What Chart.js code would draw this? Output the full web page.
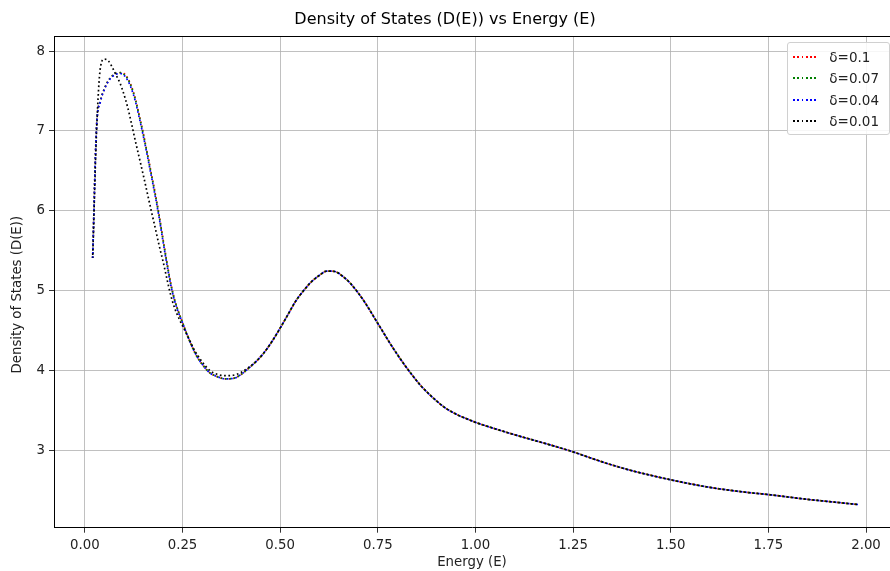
<!DOCTYPE html>
<html>
<head>
<meta charset="utf-8">
<script src="https://cdn.jsdelivr.net/npm/chart.js@4.4.0/dist/chart.umd.min.js"></script>
<style>
  html, body { margin: 0; padding: 0; background: #fff; overflow: hidden; }
  #wrap { position: relative; width: 890px; height: 571px; }
  #legend {
    position: absolute; right: 0px; top: 42px;
    background: rgba(255,255,255,0.85);
    border: 1px solid #d0d0d0; border-radius: 3px;
    padding: 3px 10px 2px 5px;
    font-family: 'DejaVu Sans', sans-serif; font-size: 13.5px; color: #222;
  }
  .row { display: flex; align-items: center; height: 21.5px; }
  .sample { width: 26px; height: 1.7px; margin-right: 10px; }
</style>
</head>
<body>
<div id="wrap">
  <canvas id="c" width="890" height="571"></canvas>
  <div id="legend"></div>
</div>
<script>
const energy = [
  0.02,0.03,0.04,0.05,0.06,0.07,0.08,0.09,0.10,0.11,0.12,0.13,0.14,0.15,0.16,0.17,0.18,0.19,0.20,
  0.21,0.22,0.23,0.24,0.25,0.26,0.27,0.28,0.29,0.30,
  0.32,0.34,0.36,0.38,0.40,0.42,0.44,0.46,0.48,0.50,0.52,0.54,0.56,0.58,0.60,0.62,0.64,0.66,0.68,0.70,
  0.72,0.74,0.76,0.78,0.80,0.82,0.84,0.86,0.88,0.90,0.92,0.94,0.96,0.98,1.00,
  1.05,1.10,1.15,1.20,1.25,1.30,1.35,1.40,1.45,1.50,1.55,1.60,1.65,1.70,1.75,1.80,1.85,1.90,1.95,1.98
];

const dosDelta010 = [
  5.41,7.06,7.38,7.53,7.63,7.69,7.72,7.73,7.72,7.66,7.55,7.39,7.18,6.96,6.72,6.47,6.22,5.95,5.65,
  5.36,5.09,4.88,4.73,4.60,4.47,4.35,4.24,4.15,4.08,
  3.97,3.92,3.895,3.90,3.95,4.03,4.12,4.23,4.37,4.53,4.70,4.87,5.00,5.11,5.19,5.245,5.24,5.18,5.09,4.97,
  4.83,4.67,4.51,4.35,4.20,4.06,3.93,3.81,3.71,3.62,3.54,3.48,3.43,3.39,3.35,
  3.27,3.195,3.125,3.055,2.98,2.895,2.815,2.745,2.685,2.63,2.58,2.535,2.50,2.47,2.445,2.415,2.385,2.36,2.335,2.32
];
const dosDelta007 = [
  5.41,7.06,7.38,7.53,7.63,7.69,7.72,7.73,7.71,7.65,7.54,7.38,7.17,6.95,6.71,6.46,6.21,5.94,5.64,
  5.35,5.08,4.88,4.73,4.60,4.47,4.35,4.24,4.15,4.08,
  3.97,3.92,3.895,3.90,3.95,4.03,4.12,4.23,4.37,4.53,4.70,4.87,5.00,5.11,5.19,5.245,5.24,5.18,5.09,4.97,
  4.83,4.67,4.51,4.35,4.20,4.06,3.93,3.81,3.71,3.62,3.54,3.48,3.43,3.39,3.35,
  3.27,3.195,3.125,3.055,2.98,2.895,2.815,2.745,2.685,2.63,2.58,2.535,2.50,2.47,2.445,2.415,2.385,2.36,2.335,2.32
];
const dosDelta004 = [
  5.41,7.05,7.37,7.52,7.62,7.68,7.71,7.72,7.70,7.63,7.52,7.36,7.15,6.93,6.69,6.44,6.19,5.92,5.62,
  5.33,5.07,4.87,4.72,4.60,4.47,4.35,4.24,4.15,4.08,
  3.97,3.92,3.895,3.90,3.95,4.03,4.12,4.23,4.37,4.53,4.70,4.87,5.00,5.11,5.19,5.245,5.24,5.18,5.09,4.97,
  4.83,4.67,4.51,4.35,4.20,4.06,3.93,3.81,3.71,3.62,3.54,3.48,3.43,3.39,3.35,
  3.27,3.195,3.125,3.055,2.98,2.895,2.815,2.745,2.685,2.63,2.58,2.535,2.50,2.47,2.445,2.415,2.385,2.36,2.335,2.32
];
const dosDelta001 = [
  5.41,7.00,7.80,7.90,7.88,7.80,7.70,7.60,7.46,7.29,7.08,6.86,6.65,6.44,6.22,6.00,5.79,5.57,5.37,
  5.15,4.94,4.78,4.66,4.56,4.46,4.36,4.26,4.18,4.11,
  4.00,3.95,3.935,3.94,3.975,4.04,4.12,4.23,4.37,4.53,4.70,4.87,5.00,5.11,5.19,5.245,5.24,5.18,5.09,4.97,
  4.83,4.67,4.51,4.35,4.20,4.06,3.93,3.81,3.71,3.62,3.54,3.48,3.43,3.39,3.35,
  3.27,3.195,3.125,3.055,2.98,2.895,2.815,2.745,2.685,2.63,2.58,2.535,2.50,2.47,2.445,2.415,2.385,2.36,2.335,2.32
];

const seriesLabels = ['δ=0.1', 'δ=0.07', 'δ=0.04', 'δ=0.01'];
const seriesColors = ['#ff0000', '#008000', '#0000ff', '#000000'];
const seriesValues = [dosDelta010, dosDelta007, dosDelta004, dosDelta001];

const xTickValues = [0.00, 0.25, 0.50, 0.75, 1.00, 1.25, 1.50, 1.75, 2.00];
const yTickValues = [3, 4, 5, 6, 7, 8];

const chartTitle = 'Density of States (D(E)) vs Energy (E)';
const xAxisTitle = 'Energy (E)';
const yAxisTitle = 'Density of States (D(E))';

const FONT = "'DejaVu Sans', sans-serif";
const TEXT_COLOR = '#222';

// top frame line and the y-axis label (drawn as canvas text)
const frameAndLabel = {
  id: 'frameAndLabel',
  afterDraw(chart) {
    const {ctx, chartArea} = chart;
    ctx.save();
    ctx.strokeStyle = '#000';
    ctx.lineWidth = 1;
    ctx.beginPath();
    ctx.moveTo(chartArea.left, chartArea.top + 0.5);
    ctx.lineTo(chartArea.right, chartArea.top + 0.5);
    ctx.stroke();
    ctx.translate(18, chartArea.top + (chartArea.bottom - chartArea.top) * 0.526);
    ctx.rotate(-Math.PI / 2);
    ctx.fillStyle = TEXT_COLOR;
    ctx.font = "13.3px 'DejaVu Sans', sans-serif";
    ctx.textAlign = 'center';
    ctx.textBaseline = 'middle';
    ctx.fillText(yAxisTitle, 0, 0);
    ctx.restore();
  }
};

const datasets = seriesLabels.map((lab, k) => ({
  label: lab,
  data: energy.map((e, i) => ({x: e, y: seriesValues[k][i]})),
  borderColor: seriesColors[k],
  backgroundColor: seriesColors[k],
  borderWidth: 1.7,
  borderDash: [1.7, 2.6],
  borderDashOffset: k === 3 ? 1.2 : 0,
  pointRadius: 0,
  fill: false,
  cubicInterpolationMode: 'monotone',
  order: seriesLabels.length - k
}));

new Chart(document.getElementById('c'), {
  type: 'line',
  data: { datasets },
  plugins: [frameAndLabel],
  options: {
    responsive: false,
    animation: false,
    layout: { padding: { left: 0, right: 0, top: 0, bottom: 0 } },
    plugins: {
      legend: { display: false },
      tooltip: { enabled: false },
      title: {
        display: true,
        text: chartTitle,
        color: '#000',
        font: { family: FONT, size: 16, weight: 'normal' },
        padding: { top: 10, bottom: 6.8 }
      }
    },
    scales: {
      x: {
        type: 'linear',
        min: -0.079,
        max: 2.0614,
        afterBuildTicks: axis => { axis.ticks = xTickValues.map(v => ({value: v})); },
        afterFit: s => { s.height = 43.3; },
        ticks: {
          color: TEXT_COLOR,
          font: { family: FONT, size: 13.3 },
          padding: 5,
          maxRotation: 0,
          callback: v => Number(v).toFixed(2)
        },
        grid: { color: '#b0b0b0', lineWidth: 0.8, tickLength: 5, tickColor: '#000', drawOnChartArea: true },
        border: { display: true, color: '#000', width: 1 },
        title: {
          display: true, text: xAxisTitle, color: TEXT_COLOR,
          font: { family: FONT, size: 13.3 },
          padding: { top: 0, bottom: 0 }
        }
      },
      y: {
        type: 'linear',
        min: 2.03,
        max: 8.19,
        afterBuildTicks: axis => { axis.ticks = yTickValues.map(v => ({value: v})); },
        afterFit: s => { s.width = 54; },
        ticks: {
          color: TEXT_COLOR,
          font: { family: FONT, size: 13.3 },
          padding: 4,
          callback: v => String(v)
        },
        grid: { color: '#b0b0b0', lineWidth: 0.8, tickLength: 5, tickColor: '#000', drawOnChartArea: true },
        border: { display: true, color: '#000', width: 1 },
        title: { display: false, text: yAxisTitle }
      }
    }
  }
});

// legend built from the series arrays
const lg = document.getElementById('legend');
seriesLabels.forEach((lab, k) => {
  const row = document.createElement('div');
  row.className = 'row';
  const s = document.createElement('span');
  s.className = 'sample';
  s.style.background = `repeating-linear-gradient(to right, ${seriesColors[k]} 0 1.7px, transparent 1.7px 4.3px)`;
  const t = document.createElement('span');
  t.textContent = lab;
  row.appendChild(s); row.appendChild(t);
  lg.appendChild(row);
});
</script>
</body>
</html>
